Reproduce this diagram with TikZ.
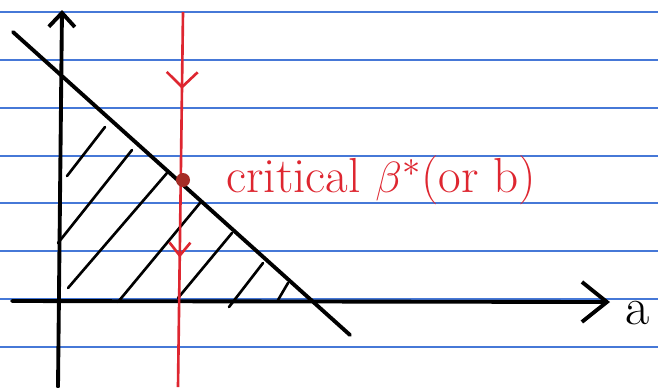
\documentclass[tikz,border=0pt]{standalone}
\usepackage{tikz}
\usetikzlibrary{arrows.meta,decorations.markings}
\definecolor{cline}{RGB}{70,120,215}
\definecolor{cred}{RGB}{222,38,48}
\definecolor{cdot}{RGB}{165,45,38}

\begin{document}
\begin{tikzpicture}[x=0.02cm,y=-0.02cm,
  rule/.style={cline,line width=0.8pt},
  axis/.style={line width=2.2pt,line cap=round},
  hatch/.style={line width=1.5pt,line cap=round},
  critline/.style={cred,line width=1.5pt,postaction={decorate},
    decoration={markings,
      mark=at position 0.205 with {\arrow{Straight Barb[length=0.3cm,width=0.62cm,line width=1.5pt]}},
      mark=at position 0.655 with {\arrow{Straight Barb[length=0.26cm,width=0.42cm,line width=1.5pt]}}}},
  dot/.style={circle,fill=cdot,inner sep=0pt,minimum size=0.28cm},
  crittext/.style={text=cred,font=\fontsize{28}{32}\selectfont,inner sep=0pt}]
  \useasboundingbox[fill=white] (0,0) rectangle (658,387);
  % ruled paper
  \foreach \yy in {12,60,108,156,203,251,299,347}
    \draw[rule] (0,\yy) -- (658,\yy);
  % axes
  \coordinate (ybot) at (58,387);
  \coordinate (ytop) at (62,10);
  \coordinate (xleft) at (12,301);
  \coordinate (xright) at (610,302);
  \draw[axis,-{Straight Barb[length=0.28cm,width=0.52cm]}] (ybot) -- (ytop);
  \draw[axis,-{Straight Barb[length=0.5cm,width=0.8cm]}] (xleft) -- (xright);
  \node[font=\fontsize{30}{34}\selectfont,anchor=base] (alabel) at (638,324) {a};
  % hatching
  \foreach \p/\q in {{(67,176)}/{(105,127)},{(58,243)}/{(132,150)},
      {(68,288)}/{(167,173)},{(118,302)}/{(200,203)},{(178,298)}/{(232,233)},
      {(229,307)}/{(263,263)},{(278,300)}/{(288,283)}}
    \draw[hatch] \p -- \q;
  % budget line
  \coordinate (ltop) at (13,32);
  \coordinate (lbot) at (350,335);
  \draw[axis] (ltop) -- (lbot);
  % critical value
  \coordinate (rtop) at (183,12);
  \coordinate (rbot) at (178,387);
  \draw[critline] (rtop) -- (rbot);
  \node[dot] (crit) at (183,180) {};
  \node[crittext,anchor=base west] (critlabel) at (226,192) {critical $\beta^{*}$(or b)};
\end{tikzpicture}
\end{document}
